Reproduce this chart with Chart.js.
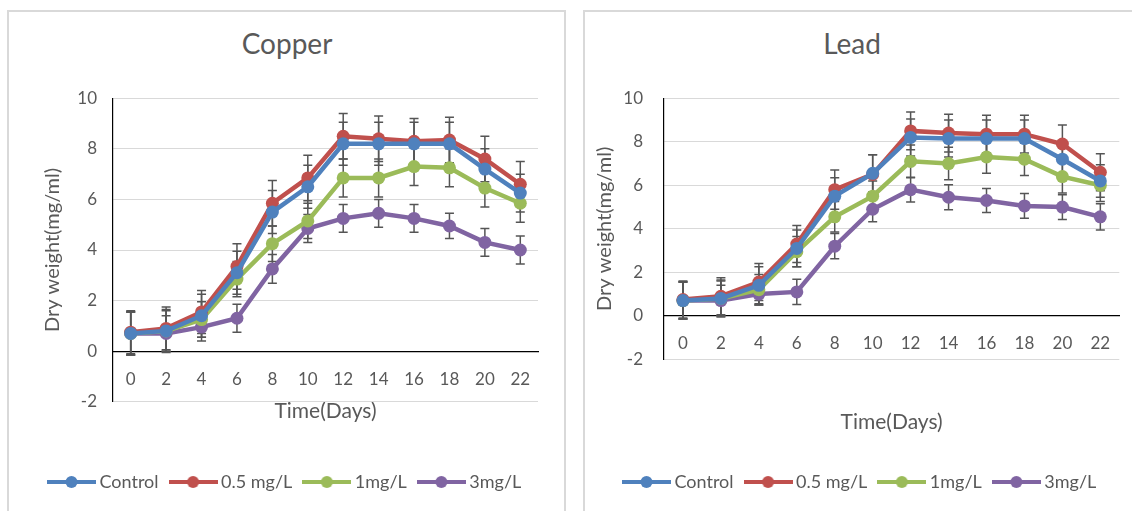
<!DOCTYPE html>
<html lang="en">
<head>
    <meta charset="UTF-8">
    <title>Dry weight - Copper / Lead</title>
    <script src="https://cdn.jsdelivr.net/npm/chart.js"></script>
    <style>
        body { margin: 0; background: #fff; width: 1132px; height: 511px; overflow: hidden; position: relative; font-family: Lato, "Open Sans", sans-serif; }
        .box { position: absolute; border: 2px solid #d9d9d9; height: 600px; }
        .ttl { position: absolute; top: 29px; line-height: 28px; font-size: 28px; color: #595959; transform: translateX(-50%); white-space: nowrap; }
        canvas { position: absolute; }
    </style>
</head>
<body>
    <div class="box" style="left:7px; top:10px; width:555px;"></div>
    <div class="box" style="left:583px; top:10px; width:600px;"></div>
    <div class="ttl" style="left:287px;">Copper</div>
    <div class="ttl" style="left:852px;">Lead</div>
    <canvas id="copperChart" width="555" height="499" style="left:9px; top:12px;"></canvas>
    <canvas id="leadChart" width="547" height="499" style="left:585px; top:12px;"></canvas>

    <script>
        // dados
        const days = ['0', '2', '4', '6', '8', '10', '12', '14', '16', '18', '20', '22'];
        const seriesNames = ['Control', '0.5 mg/L', '1mg/L', '3mg/L'];
        const seriesColors = ['#4F81BD', '#C0504D', '#9BBB59', '#8064A2'];
        const yTicks = [-2, 0, 2, 4, 6, 8, 10];

        // Copper
        const copperControl = [0.7, 0.8, 1.4, 3.1, 5.5, 6.5, 8.2, 8.2, 8.2, 8.2, 7.2, 6.25];
        const copperHalf = [0.75, 0.9, 1.55, 3.35, 5.85, 6.85, 8.5, 8.4, 8.3, 8.35, 7.6, 6.6];
        const copperOne = [0.7, 0.8, 1.25, 2.85, 4.25, 5.15, 6.85, 6.85, 7.3, 7.25, 6.45, 5.85];
        const copperThree = [0.7, 0.7, 0.95, 1.3, 3.25, 4.85, 5.25, 5.45, 5.25, 4.95, 4.3, 4.0];
        const copperControlErr = [0.85, 0.85, 0.85, 0.85, 0.85, 0.85, 0.85, 0.85, 0.85, 0.85, 0.8, 0.75];
        const copperHalfErr = [0.85, 0.85, 0.85, 0.9, 0.9, 0.9, 0.9, 0.9, 0.9, 0.9, 0.9, 0.9];
        const copperOneErr = [0.85, 0.8, 0.7, 0.7, 0.7, 0.7, 0.75, 0.75, 0.75, 0.75, 0.75, 0.75];
        const copperThreeErr = [0.85, 0.7, 0.55, 0.55, 0.57, 0.55, 0.55, 0.55, 0.55, 0.5, 0.55, 0.55];

        // Lead
        const leadControl = [0.7, 0.8, 1.4, 3.1, 5.5, 6.55, 8.2, 8.15, 8.15, 8.15, 7.2, 6.2];
        const leadHalf = [0.75, 0.9, 1.55, 3.3, 5.8, 6.5, 8.5, 8.4, 8.35, 8.35, 7.9, 6.6];
        const leadOne = [0.7, 0.8, 1.2, 2.95, 4.55, 5.5, 7.1, 7.0, 7.3, 7.2, 6.4, 6.0];
        const leadThree = [0.7, 0.7, 1.0, 1.1, 3.2, 4.9, 5.8, 5.45, 5.3, 5.05, 5.0, 4.55];
        const leadControlErr = [0.85, 0.85, 0.85, 0.85, 0.85, 0.85, 0.85, 0.85, 0.85, 0.85, 0.8, 0.75];
        const leadHalfErr = [0.85, 0.85, 0.85, 0.85, 0.9, 0.9, 0.87, 0.87, 0.87, 0.87, 0.87, 0.85];
        const leadOneErr = [0.85, 0.8, 0.7, 0.7, 0.7, 0.7, 0.75, 0.75, 0.75, 0.75, 0.75, 0.75];
        const leadThreeErr = [0.85, 0.7, 0.5, 0.58, 0.58, 0.58, 0.57, 0.57, 0.55, 0.57, 0.57, 0.6];

        const textColor = '#595959';
        Chart.defaults.font.family = 'Lato, "Open Sans", sans-serif';
        Chart.defaults.color = textColor;

        // ícone da legenda: linha com bolinha no meio
        function legendIcon(color) {
            const c = document.createElement('canvas');
            c.width = 49;
            c.height = 14;
            const g = c.getContext('2d');
            g.strokeStyle = color;
            g.lineWidth = 4;
            g.beginPath();
            g.moveTo(0, 7);
            g.lineTo(49, 7);
            g.stroke();
            g.fillStyle = color;
            g.beginPath();
            g.arc(24.5, 7, 6, 0, Math.PI * 2);
            g.fill();
            return c;
        }
        const icons = seriesColors.map(legendIcon);

        // barras de erro desenhadas antes das linhas
        const errorBars = {
            id: 'errorBars',
            beforeDatasetsDraw(chart) {
                const ctx = chart.ctx;
                const xs = chart.scales.x;
                const ys = chart.scales.y;
                ctx.save();
                ctx.strokeStyle = '#555555';
                ctx.lineWidth = 1.5;
                chart.data.datasets.forEach(ds => {
                    ds.data.forEach((v, j) => {
                        const e = ds.errors[j];
                        const x = xs.getPixelForValue(j);
                        const y1 = ys.getPixelForValue(v + e);
                        const y2 = ys.getPixelForValue(v - e);
                        ctx.beginPath();
                        ctx.moveTo(x, y1); ctx.lineTo(x, y2);
                        ctx.moveTo(x - 4.5, y1); ctx.lineTo(x + 4.5, y1);
                        ctx.moveTo(x - 4.5, y2); ctx.lineTo(x + 4.5, y2);
                        ctx.stroke();
                    });
                });
                ctx.restore();
            }
        };

        function createChart(id, values, errors, lay) {
            const datasets = values.map((vals, i) => ({
                label: seriesNames[i],
                data: vals,
                errors: errors[i],
                borderColor: seriesColors[i],
                backgroundColor: seriesColors[i],
                borderWidth: 4.5,
                pointRadius: 6.5,
                pointBorderWidth: 0,
                pointHoverRadius: 6.5,
                tension: 0
            }));

            return new Chart(document.getElementById(id), {
                type: 'line',
                data: { labels: days, datasets: datasets },
                options: {
                    responsive: false,
                    animation: false,
                    events: [],
                    layout: { padding: { left: lay.padLeft, right: lay.padRight, top: lay.padTop, bottom: lay.padBottom } },
                    plugins: {
                        title: { display: false },
                        tooltip: { enabled: false },
                        legend: {
                            position: 'bottom',
                            align: 'start',
                            labels: {
                                usePointStyle: true,
                                pointStyleWidth: 38,
                                padding: 15.5,
                                color: textColor,
                                font: { size: 18 },
                                generateLabels: chart => chart.data.datasets.map((ds, i) => ({
                                    text: ds.label,
                                    pointStyle: icons[i],
                                    fillStyle: ds.borderColor,
                                    strokeStyle: ds.borderColor,
                                    lineWidth: 0,
                                    hidden: false,
                                    datasetIndex: i,
                                    fontColor: textColor
                                }))
                            }
                        }
                    },
                    scales: {
                        x: {
                            type: 'category',
                            position: { y: 0 },
                            offset: true,
                            grid: { display: false, drawTicks: false },
                            border: { display: true, color: '#000', width: 1.2 },
                            ticks: { font: { size: 17 }, color: textColor, padding: 18, maxRotation: 0 },
                            afterFit: s => { s.height = 0; }
                        },
                        x2: {
                            type: 'category',
                            position: 'bottom',
                            offset: true,
                            grid: { display: false, drawTicks: false },
                            border: { display: false },
                            ticks: { display: false },
                            title: {
                                display: true,
                                text: 'Time(Days)',
                                color: textColor,
                                font: { size: 21 },
                                padding: { top: lay.x2Top, bottom: lay.x2Bottom }
                            }
                        },
                        y: {
                            min: -2,
                            max: 10,
                            afterBuildTicks: s => { s.ticks = yTicks.map(v => ({ value: v })); },
                            grid: { color: '#d9d9d9', drawTicks: false },
                            border: { display: true, color: '#000', width: 1.2 },
                            ticks: { font: { size: 17 }, color: textColor, padding: lay.yTickPad },
                            title: {
                                display: true,
                                text: 'Dry weight(mg/ml)',
                                color: textColor,
                                font: { size: 20 },
                                padding: { top: lay.yTitlePad, bottom: 0 }
                            },
                            afterFit: s => { s.width = lay.yWidth; }
                        }
                    }
                },
                plugins: [errorBars]
            });
        }

        createChart('copperChart',
            [copperControl, copperHalf, copperOne, copperThree],
            [copperControlErr, copperHalfErr, copperOneErr, copperThreeErr],
            { padLeft: 28, padRight: 26, padTop: 86.3, padBottom: 10, yWidth: 76, yTickPad: 16, yTitlePad: 4, x2Top: -3.3, x2Bottom: 33.9 });

        createChart('leadChart',
            [leadControl, leadHalf, leadOne, leadThree],
            [leadControlErr, leadHalfErr, leadOneErr, leadThreeErr],
            { padLeft: 27, padRight: 12.7, padTop: 86.3, padBottom: 10, yWidth: 52, yTickPad: 21, yTitlePad: -19, x2Top: 50.1, x2Bottom: 22.9 });
    </script>
</body>
</html>
